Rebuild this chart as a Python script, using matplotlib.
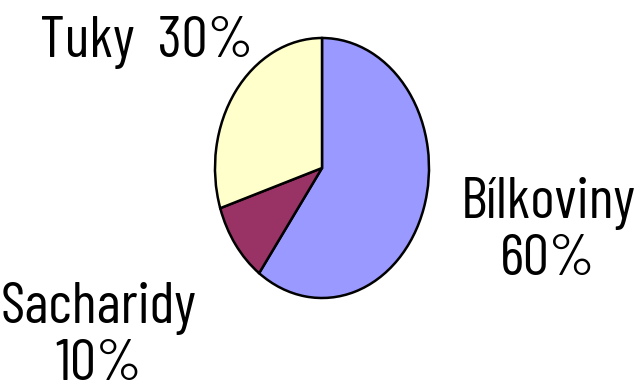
import matplotlib
matplotlib.use('Agg')

import matplotlib.pyplot as plt

W, H = 644, 387

labels = ["Bílkoviny", "Sacharidy", "Tuky"]
values = [60, 10, 30]
colors = ["#9999FF", "#993366", "#FFFFCC"]

# label text and where it sits (pixel centre x, last-line baseline y)
label_texts = ["Bílkoviny\n60%", "Sacharidy\n10%", "Tuky  30%"]
label_pos = [(548, 275), (99, 380), (147, 57)]

FONT = ["Barlow Condensed", "Archivo Narrow", "Liberation Sans"]

fig = plt.figure(figsize=(W / 100, H / 100), dpi=100)

# pie is an ellipse in the original, so let the axes stretch it
ax = fig.add_axes([215 / W, (H - 298) / H, 214 / W, 260 / H])
ax.pie(
    values,
    colors=colors,
    startangle=90,
    counterclock=False,
    wedgeprops={"edgecolor": "black", "linewidth": 1.8},
)
ax.set_aspect("auto")
ax.set_xlim(-1.0, 1.0)
ax.set_ylim(-1.0, 1.0)
ax.axis("off")

for txt, (px, py) in zip(label_texts, label_pos):
    fig.text(px / W, 1 - py / H, txt, ha="center", va="baseline",
             fontsize=42, family=FONT, linespacing=1.1,
             multialignment="center")

plt.savefig("out.png", dpi=100)
